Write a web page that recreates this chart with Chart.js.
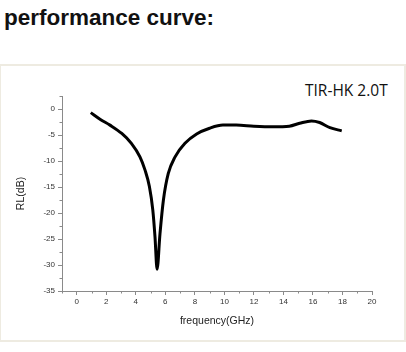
<!DOCTYPE html>
<html>
<head>
<meta charset="utf-8">
<script src="https://cdn.jsdelivr.net/npm/chart.js@4/dist/chart.umd.min.js"></script>
<style>
  html, body { margin: 0; padding: 0; background: #fff; }
  #wrap { position: relative; width: 406px; height: 352px; overflow: hidden; }
  #heading { position: absolute; left: 4px; top: 5px; font: bold 22.5px "Liberation Sans", Arial, sans-serif; color: #111; line-height: 26px; }
  #box { position: absolute; left: -1px; top: 64px; width: 403px; height: 274px; border: 2px solid #eeebe1; }
  #legend { position: absolute; left: 305px; top: 79px; font: 15.5px "Open Sans", "Noto Sans", sans-serif; color: #111; line-height: 22px; }
  canvas { position: absolute; left: 0; top: 0; }
</style>
</head>
<body>
<div id="wrap">
  <div id="heading">performance curve:</div>
  <div id="box"></div>
  <div id="legend">TIR-HK 2.0T</div>
  <canvas id="c" width="406" height="352"></canvas>
</div>
<script>
// frequency in GHz
const freq = [0.95, 1.6, 2.25, 3.05, 3.7, 4.28, 4.62, 4.92, 5.15, 5.3, 5.44, 5.64, 5.87, 6.2, 6.66, 7.33, 8.12, 9.0, 9.9, 10.8, 12.0, 13.3, 14.4, 15.1, 15.9, 16.45, 17.15, 17.95];
// reflection loss in dB
const rl = [-0.7, -2.0, -3.1, -4.7, -6.6, -9.2, -11.7, -14.9, -19.4, -24.6, -30.8, -23.9, -17.5, -12.4, -9.2, -6.6, -4.8, -3.7, -3.1, -3.1, -3.3, -3.4, -3.3, -2.75, -2.3, -2.6, -3.6, -4.2];
const xTicks = [0, 2, 4, 6, 8, 10, 12, 14, 16, 18, 20];
const yTicks = [0, -5, -10, -15, -20, -25, -30, -35];
const xMinor = [-1, 1, 3, 5, 7, 9, 11, 13, 15, 17, 19];
const yMinor = [2.5, -2.5, -7.5, -12.5, -17.5, -22.5, -27.5, -32.5];

const points = freq.map((f, i) => ({ x: f, y: rl[i] }));
const axisColor = '#8a8a8a';
const labelColor = '#333';

const minorTicks = {
  id: 'minorTicks',
  afterDraw(chart) {
    const ctx = chart.ctx;
    const xs = chart.scales.x, ys = chart.scales.y;
    ctx.save();
    ctx.strokeStyle = axisColor;
    ctx.lineWidth = 1;
    ctx.beginPath();
    xMinor.forEach(v => {
      const px = Math.round(xs.getPixelForValue(v)) + 0.5;
      ctx.moveTo(px, xs.top); ctx.lineTo(px, xs.top + 2.5);
    });
    yMinor.forEach(v => {
      const py = Math.round(ys.getPixelForValue(v)) + 0.5;
      ctx.moveTo(ys.right, py); ctx.lineTo(ys.right - 2.5, py);
    });
    ctx.stroke();
    ctx.restore();
  }
};

new Chart(document.getElementById('c'), {
  type: 'line',
  data: {
    datasets: [{
      data: points,
      borderColor: '#000',
      borderWidth: 3,
      pointRadius: 0,
      cubicInterpolationMode: 'monotone',
      fill: false
    }]
  },
  options: {
    responsive: false,
    animation: false,
    events: [],
    layout: { padding: { left: 11, top: 96, right: 34, bottom: 21 } },
    plugins: { legend: { display: false }, tooltip: { enabled: false } },
    scales: {
      x: {
        type: 'linear',
        min: -1, max: 20,
        afterBuildTicks: s => { s.ticks = xTicks.map(v => ({ value: v })); },
        afterFit: s => { s.height = 40; },
        grid: { drawOnChartArea: false, drawTicks: true, tickLength: 4, color: axisColor },
        border: { display: true, color: axisColor, width: 1 },
        ticks: { color: labelColor, font: { family: 'Liberation Sans', size: 8 }, padding: 2, maxRotation: 0 },
        title: { display: true, text: 'frequency(GHz)', color: '#222', font: { family: 'Liberation Sans', size: 10.5 }, padding: { top: 4 } }
      },
      y: {
        type: 'linear',
        min: -35, max: 2.5,
        afterBuildTicks: s => { s.ticks = yTicks.map(v => ({ value: v })); },
        afterFit: s => { s.width = 51; },
        grid: { drawOnChartArea: false, drawTicks: true, tickLength: 4, color: axisColor },
        border: { display: true, color: axisColor, width: 1 },
        ticks: { color: labelColor, font: { family: 'Liberation Sans', size: 8 }, padding: 3 },
        title: { display: true, text: 'RL(dB)', color: '#222', font: { family: 'Liberation Sans', size: 10.5 }, padding: { bottom: 0 } }
      }
    }
  },
  plugins: [minorTicks]
});
</script>
</body>
</html>
